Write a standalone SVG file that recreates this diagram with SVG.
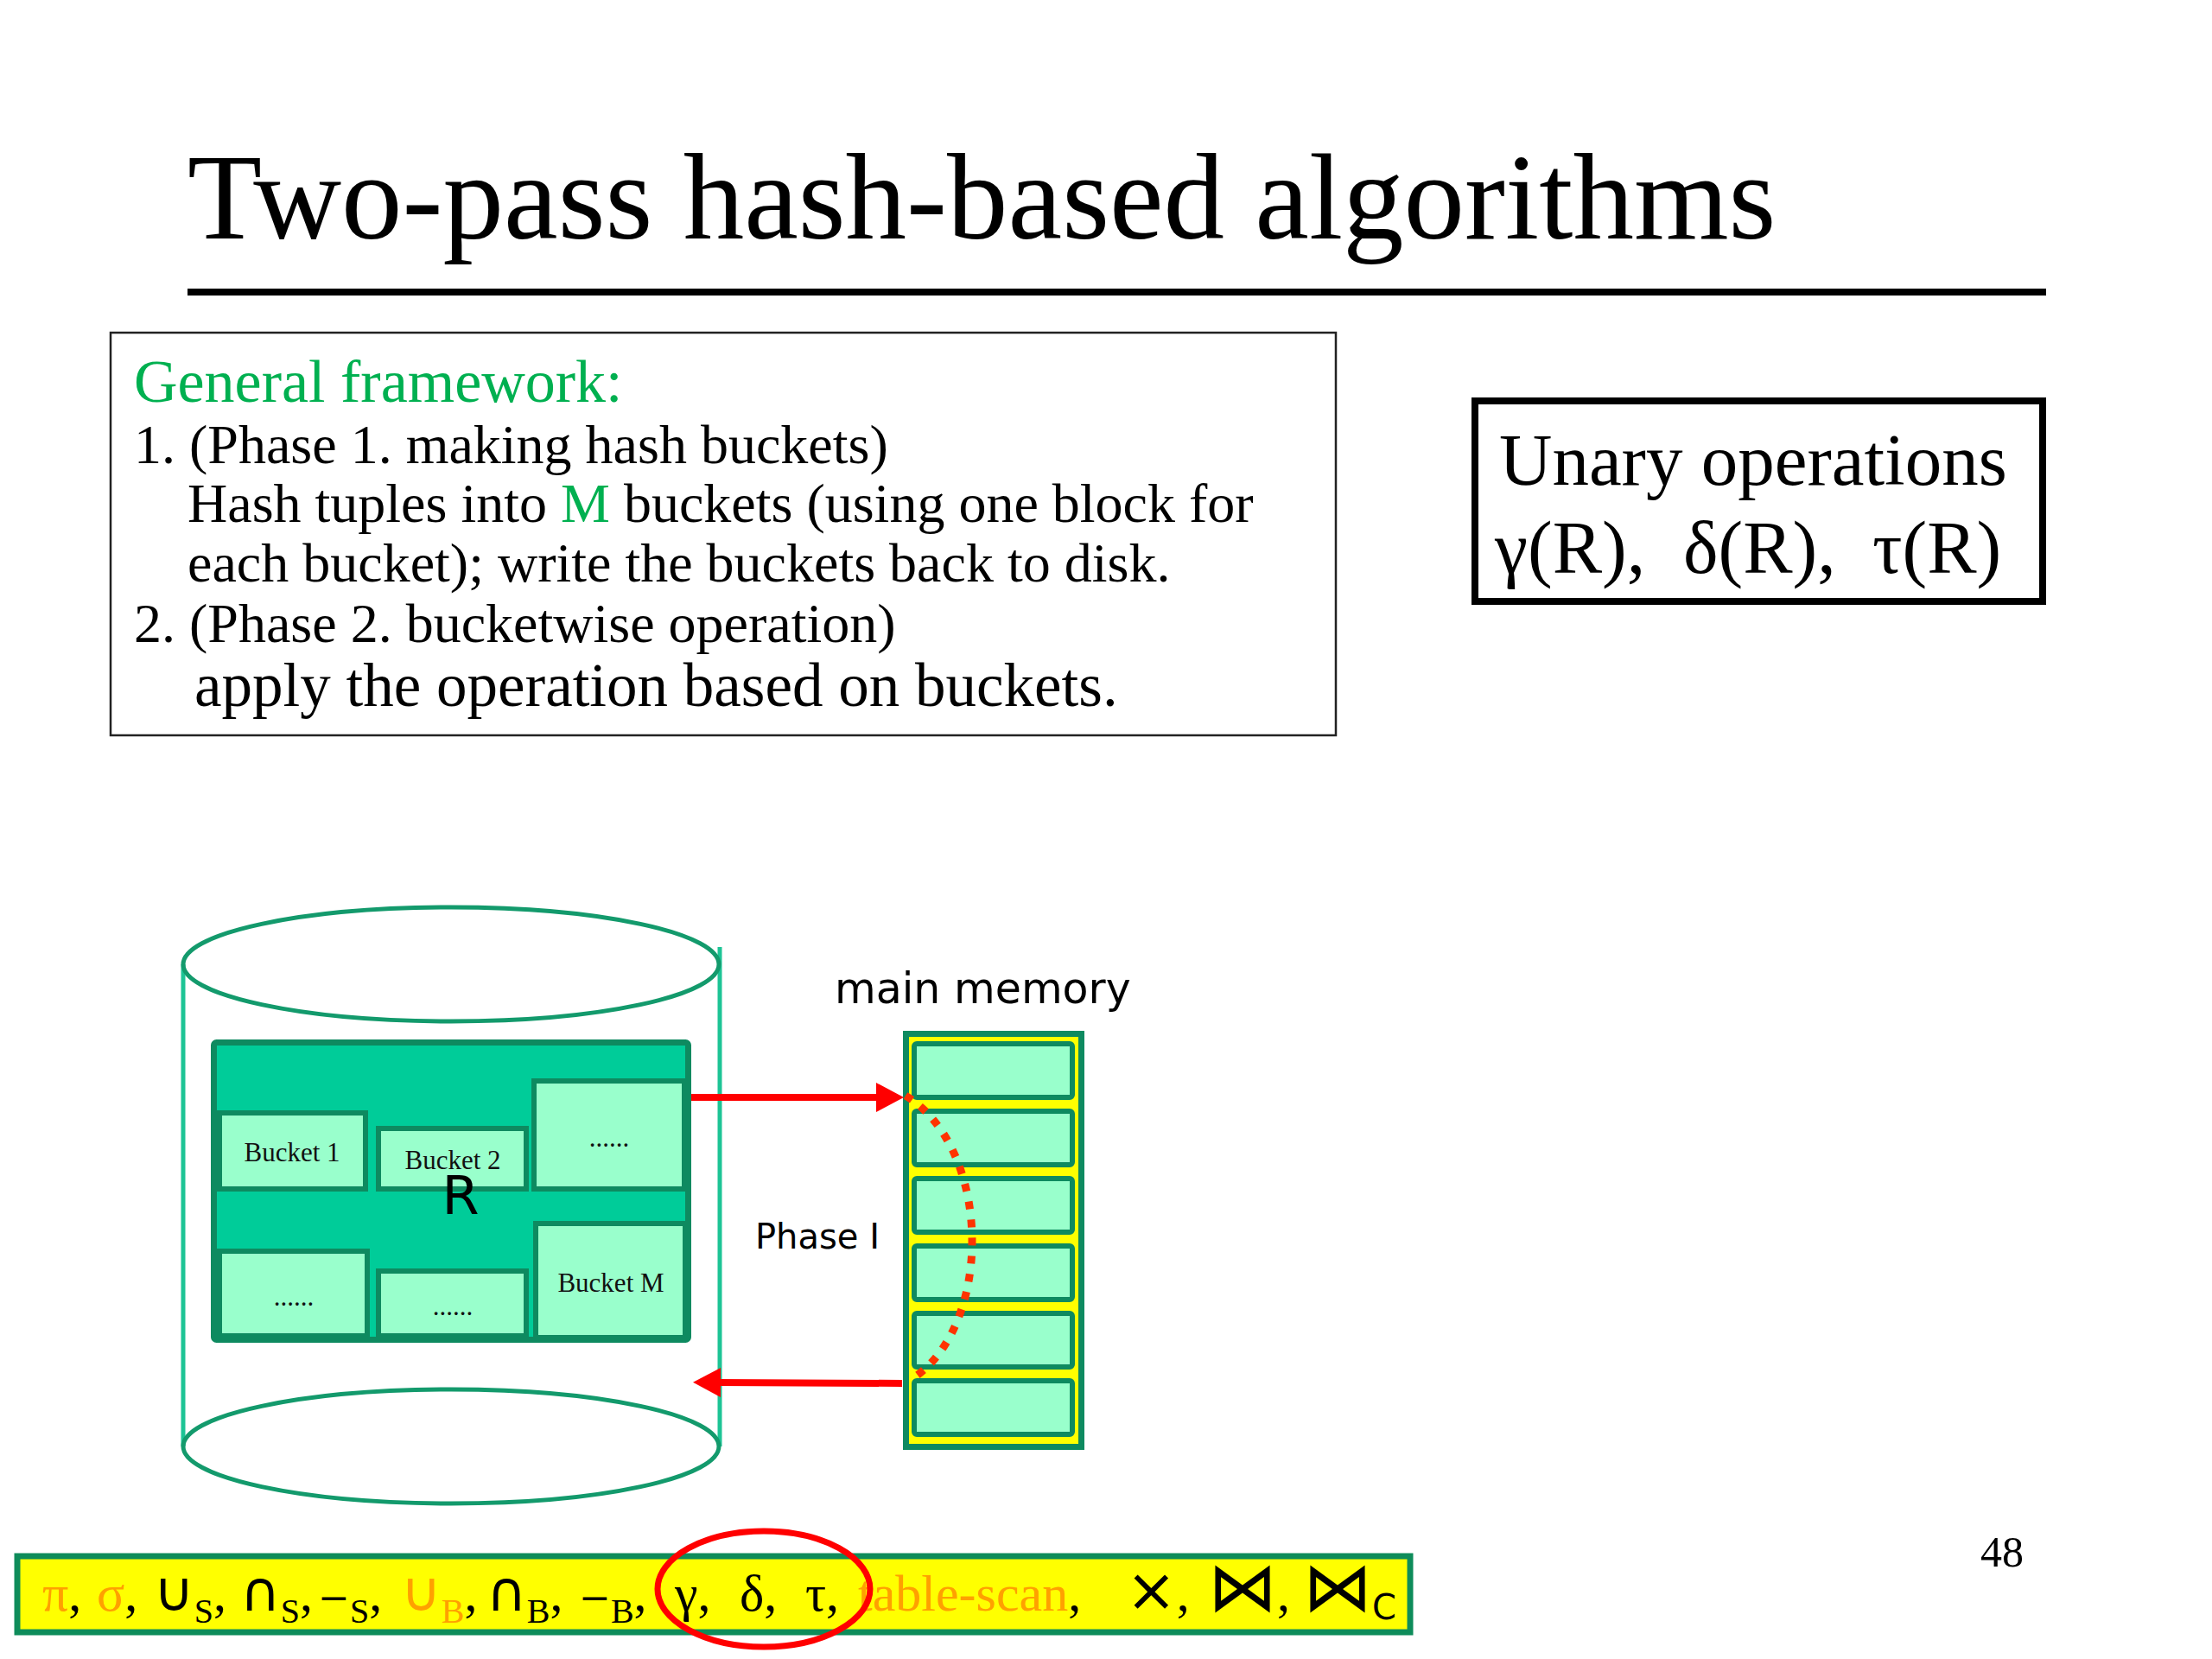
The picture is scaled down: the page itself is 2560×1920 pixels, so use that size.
<svg xmlns="http://www.w3.org/2000/svg" width="2560" height="1920" viewBox="0 0 2560 1920">
<style>
.serif{font-family:"Liberation Serif","Times New Roman",serif;fill:#000}
.sans{font-family:"DejaVu Sans","Verdana",sans-serif;fill:#000}
.sym{font-family:"DejaVu Sans",sans-serif}
.fw{font-size:64px}
.green{fill:#00B050}
.orange{fill:#FFA000}
.cell{fill:#99FFCC;stroke:#0E8A60;stroke-width:6}
.mcell{fill:#99FFCC;stroke:#0E8A60;stroke-width:6}
.blabel{font-family:"Liberation Serif","Times New Roman",serif;font-size:31px;fill:#111;text-anchor:middle}
.bt{font-family:"Liberation Serif","Times New Roman",serif;font-size:60px;fill:#000}
.sub{font-size:40px}
.cyl{fill:none;stroke:#139A6C;stroke-width:5}
.cylside{stroke:#1DC495;stroke-width:5}
.red{stroke:#FF0000;stroke-width:8;fill:none}
.bow{font-family:"DejaVu Sans",sans-serif;font-size:80px}
.minus{font-family:"DejaVu Sans",sans-serif;font-size:44px}
</style>
<defs>
<marker id="ah" markerUnits="userSpaceOnUse" markerWidth="34" markerHeight="34" viewBox="0 0 34 34" refX="2" refY="17" orient="auto">
<path d="M0,0 L32,17 L0,34 Z" fill="#FF0000"/>
</marker>
</defs>
<rect width="2560" height="1920" fill="#FFFFFF"/>

<g id="title">
<text class="serif" x="217" y="276" font-size="141">Two-pass hash-based algorithms</text>
<rect x="217" y="334" width="2151" height="8" fill="#000"/>
</g>

<g id="framework-box">
<rect x="128" y="385" width="1418" height="466" fill="#FFFFFF" stroke="#222" stroke-width="2.5"/>
<text class="serif green" x="155" y="465" font-size="70">General framework:</text>
<text class="serif fw" x="155" y="536">1. (Phase 1. making hash buckets)</text>
<text class="serif fw" x="217" y="604">Hash tuples into <tspan class="green">M</tspan> buckets (using one block for</text>
<text class="serif fw" x="217" y="673">each bucket); write the buckets back to disk.</text>
<text class="serif fw" x="155" y="743">2. (Phase 2. bucketwise operation)</text>
<text class="serif" x="225" y="817" font-size="71">apply the operation based on buckets.</text>
</g>

<g id="unary-box">
<rect x="1707" y="464" width="657" height="232" fill="#FFFFFF" stroke="#000" stroke-width="8"/>
<text class="serif" x="1735" y="561" font-size="85">Unary operations</text>
<text class="serif" y="663" font-size="86"><tspan x="1730">γ(R),</tspan><tspan x="1948">δ(R),</tspan><tspan x="2167">τ(R)</tspan></text>
</g>

<g id="disk">
<line class="cylside" x1="212" y1="1116" x2="212" y2="1674"/>
<line class="cylside" x1="833" y1="1096" x2="833" y2="1674"/>
<ellipse class="cyl" cx="522" cy="1116" rx="310" ry="66"/>
<ellipse class="cyl" cx="522" cy="1674" rx="310" ry="66"/>
<g id="relation-R">
<rect x="247.5" y="1206.5" width="549" height="344" rx="3" fill="#00CC99" stroke="#0E8A60" stroke-width="7"/>
<g id="bucket-1"><rect class="cell" x="254" y="1288" width="169" height="88"/><text class="blabel" x="338" y="1344">Bucket 1</text></g>
<g id="bucket-2"><rect class="cell" x="438" y="1306" width="171" height="70"/><text class="blabel" x="524" y="1353">Bucket 2</text></g>
<g id="bucket-dots-1"><rect class="cell" x="618" y="1251" width="174" height="125"/><text class="blabel" x="705" y="1327">......</text></g>
<g id="bucket-dots-2"><rect class="cell" x="254" y="1448" width="171" height="98"/><text class="blabel" x="340" y="1511">......</text></g>
<g id="bucket-dots-3"><rect class="cell" x="438" y="1471" width="171" height="75"/><text class="blabel" x="524" y="1522">......</text></g>
<g id="bucket-M"><rect class="cell" x="620" y="1416" width="173" height="132"/><text class="blabel" x="707" y="1495">Bucket M</text></g>
<text class="sans" x="533" y="1405" font-size="62" text-anchor="middle">R</text>
</g>
</g>

<g id="main-memory">
<rect x="1048.5" y="1196.5" width="203" height="478" fill="#FFFF00" stroke="#0E8A60" stroke-width="7"/>
<rect class="mcell" x="1058" y="1208" width="183" height="62" rx="3"/>
<rect class="mcell" x="1058" y="1286" width="183" height="62" rx="3"/>
<rect class="mcell" x="1058" y="1364" width="183" height="62" rx="3"/>
<rect class="mcell" x="1058" y="1442" width="183" height="62" rx="3"/>
<rect class="mcell" x="1058" y="1520" width="183" height="62" rx="3"/>
<rect class="mcell" x="1058" y="1598" width="183" height="62" rx="3"/>
<text class="sans" x="966" y="1161" font-size="49">main memory</text>
</g>

<g id="connectors">
<line class="red" x1="800" y1="1270" x2="1016" y2="1270" marker-end="url(#ah)"/>
<line class="red" x1="1044" y1="1601" x2="832" y2="1600" marker-end="url(#ah)"/>
<path d="M1048,1268 C1150,1330 1150,1540 1052,1598" fill="none" stroke="#FF3300" stroke-width="9" stroke-dasharray="9 12"/>
<text class="sans" x="874" y="1445" font-size="40">Phase I</text>
</g>

<g id="page-number">
<text class="serif" x="2292" y="1813" font-size="50">48</text>
</g>

<g id="operator-bar">
<rect x="20" y="1801" width="1612" height="88" fill="#FFFF00" stroke="#0E8C5A" stroke-width="7"/>
<text class="bt" x="49" y="1864"><tspan class="orange">π</tspan>,</text>
<text class="bt" x="112" y="1864"><tspan class="orange">σ</tspan>,</text>
<text class="bt" x="178" y="1864"><tspan class="sym" font-size="64">∪</tspan><tspan class="sub" dy="14">S</tspan><tspan dy="-14">,</tspan></text>
<text class="bt" x="278" y="1864"><tspan class="sym" font-size="64">∩</tspan><tspan class="sub" dy="14">S</tspan><tspan dy="-14">,</tspan></text>
<text class="bt" x="368" y="1864"><tspan class="minus">−</tspan><tspan class="sub" dy="14">S</tspan><tspan dy="-14">,</tspan></text>
<text class="bt" x="464" y="1864"><tspan class="sym orange" font-size="64">∪</tspan><tspan class="sub orange" dy="14">B</tspan><tspan dy="-14">,</tspan></text>
<text class="bt" x="563" y="1864"><tspan class="sym" font-size="64">∩</tspan><tspan class="sub" dy="14">B</tspan><tspan dy="-14">,</tspan></text>
<text class="bt" x="670" y="1864"><tspan class="minus">−</tspan><tspan class="sub" dy="14">B</tspan><tspan dy="-14">,</tspan></text>
<text class="bt" x="781" y="1864">γ,</text>
<text class="bt" x="856" y="1864">δ,</text>
<text class="bt" x="932" y="1864">τ,</text>
<text class="bt" x="993" y="1864"><tspan class="orange">table-scan</tspan>,</text>
<text class="bt" x="1303" y="1864"><tspan class="sym" font-size="70">×</tspan>,</text>
<text class="bt" x="1398" y="1864"><tspan class="bow">⋈</tspan>,</text>
<text class="bt" x="1508" y="1864"><tspan class="bow">⋈</tspan><tspan class="sub sym" font-size="36" dy="10">C</tspan></text>
<ellipse cx="884" cy="1839" rx="123" ry="67" fill="none" stroke="#FF0000" stroke-width="7"/>
</g>
</svg>
